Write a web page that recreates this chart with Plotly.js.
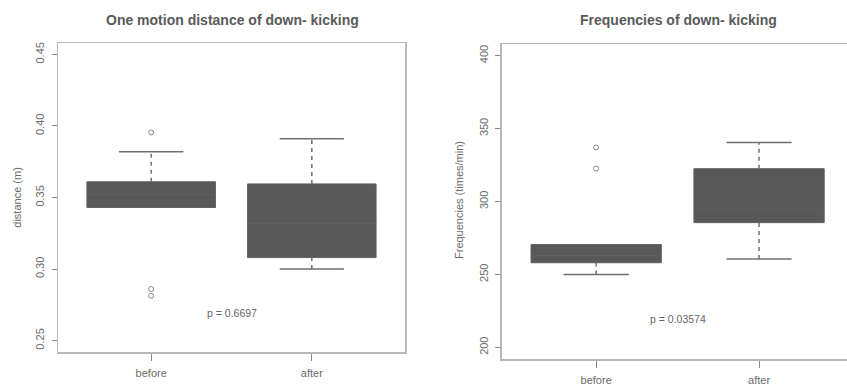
<!DOCTYPE html>
<html>
<head>
<meta charset="utf-8">
<script src="https://cdn.plot.ly/plotly-3.0.1.min.js"></script>
<style>html,body{margin:0;padding:0;background:#fff;}#chart{width:847px;height:388px;}</style>
</head>
<body>
<div id="chart"></div>
<script>
// ---- data ----
const groups = ['before', 'after'];
const groupPos = [1, 2];

// One motion distance of down-kicking (m)
const distQ1 = [0.343, 0.308];
const distMedian = [0.352, 0.332];
const distQ3 = [0.361, 0.3595];
const distLowWhisker = [0.343, 0.300];
const distHighWhisker = [0.382, 0.391];
const distOutliers = [[0.3955, 0.286, 0.2813], []];
const distP = 'p = 0.6697';

// Frequencies of down-kicking (times/min)
const freqQ1 = [258, 285.5];
const freqMedian = [263, 295.5];
const freqQ3 = [270.5, 322.5];
const freqLowWhisker = [250, 260.5];
const freqHighWhisker = [270.5, 340.5];
const freqOutliers = [[337, 322.6], []];
const freqP = 'p = 0.03574';

// ---- styles ----
const boxFill = '#585858';
const boxLine = '#616161';
const whiskColor = '#6e6e6e';
const frameColor = '#b8b8b8';
const textColor = '#5a5a5a';
const fam = 'Liberation Sans, Arial, sans-serif';
const tickFont = {family: fam, size: 11, color: '#6a6a6a'};
const capHalf = 0.2;

function panelTraces(q1, med, q3, lo, hi, outs, xa, ya) {
  const tr = [];
  tr.push({
    type: 'box', x: groupPos, q1: q1, median: med, q3: q3,
    lowerfence: q1, upperfence: q3, width: 0.8, whiskerwidth: 0,
    fillcolor: boxFill, line: {color: boxLine, width: 1},
    boxpoints: false, hoverinfo: 'skip', xaxis: xa, yaxis: ya, showlegend: false
  });
  groupPos.forEach((p, i) => {
    if (hi[i] > q3[i]) {
      tr.push({type: 'scatter', mode: 'lines', x: [p, p], y: [q3[i], hi[i]],
        line: {color: whiskColor, width: 1.5, dash: '4px,4px'}, xaxis: xa, yaxis: ya, showlegend: false, hoverinfo: 'skip'});
      tr.push({type: 'scatter', mode: 'lines', x: [p - capHalf, p + capHalf], y: [hi[i], hi[i]],
        line: {color: whiskColor, width: 1.5}, xaxis: xa, yaxis: ya, showlegend: false, hoverinfo: 'skip'});
    }
    if (lo[i] < q1[i]) {
      tr.push({type: 'scatter', mode: 'lines', x: [p, p], y: [lo[i], q1[i]],
        line: {color: whiskColor, width: 1.5, dash: '4px,4px'}, xaxis: xa, yaxis: ya, showlegend: false, hoverinfo: 'skip'});
      tr.push({type: 'scatter', mode: 'lines', x: [p - capHalf, p + capHalf], y: [lo[i], lo[i]],
        line: {color: whiskColor, width: 1.5}, xaxis: xa, yaxis: ya, showlegend: false, hoverinfo: 'skip'});
    }
    if (outs[i].length) {
      tr.push({type: 'scatter', mode: 'markers', x: outs[i].map(() => p), y: outs[i],
        marker: {symbol: 'circle-open', size: 5, color: '#8a8a8a', line: {width: 1}},
        xaxis: xa, yaxis: ya, showlegend: false, hoverinfo: 'skip'});
    }
  });
  return tr;
}

const data = [].concat(
  panelTraces(distQ1, distMedian, distQ3, distLowWhisker, distHighWhisker, distOutliers, 'x', 'y'),
  panelTraces(freqQ1, freqMedian, freqQ3, freqLowWhisker, freqHighWhisker, freqOutliers, 'x2', 'y2')
);

function xAxis(domain, range, anchor) {
  return {domain: domain, range: range, anchor: anchor, tickvals: groupPos, ticktext: groups,
    showline: true, linecolor: frameColor, linewidth: 1.5, mirror: true,
    ticks: 'outside', ticklen: 7, tickcolor: '#888', tickwidth: 1, tickfont: tickFont,
    ticklabelstandoff: 3, showgrid: false, zeroline: false, fixedrange: true};
}
function yAxis(domain, range, tickvals, ticktext, anchor, mirror) {
  return {domain: domain, range: range, anchor: anchor, tickvals: tickvals, ticktext: ticktext,
    tickangle: -90, showline: true, linecolor: frameColor, linewidth: 1.5, mirror: mirror,
    ticks: 'outside', ticklen: 5, tickcolor: '#888', tickwidth: 1, tickfont: tickFont,
    ticklabelstandoff: 3, showgrid: false, zeroline: false, fixedrange: true};
}

const distTicks = [0.25, 0.30, 0.35, 0.40, 0.45];
const freqTicks = [200, 250, 300, 350, 400];

const layout = {
  width: 847, height: 388,
  margin: {l: 0, r: 0, t: 0, b: 0},
  paper_bgcolor: '#fff', plot_bgcolor: '#fff',
  showlegend: false,
  xaxis: xAxis([58/847, 405/847], [0.42, 2.58], 'y'),
  yaxis: yAxis([1 - 352/388, 1 - 43/388], [0.242, 0.458], distTicks, distTicks.map(v => v.toFixed(2)), 'x', true),
  xaxis2: xAxis([501.7/847, 1], [0.42, 2.54], 'y2'),
  yaxis2: yAxis([1 - 359/388, 1 - 44/388], [192, 408], freqTicks, freqTicks.map(String), 'x2', false),
  annotations: [
    {text: '<b>One motion distance of down- kicking</b>', xref: 'paper', yref: 'paper', x: 232/847, y: 1 - 19.5/388,
      xanchor: 'center', yanchor: 'middle', showarrow: false, font: {family: fam, size: 14, color: textColor}},
    {text: '<b>Frequencies of down- kicking</b>', xref: 'paper', yref: 'paper', x: 678/847, y: 1 - 20/388,
      xanchor: 'center', yanchor: 'middle', showarrow: false, font: {family: fam, size: 14, color: textColor}},
    {text: 'distance (m)', xref: 'paper', yref: 'paper', x: 16.7/847, y: 1 - 197/388, textangle: -90,
      xanchor: 'center', yanchor: 'middle', showarrow: false, font: {family: fam, size: 11, color: '#6a6a6a'}},
    {text: 'Frequencies (times/min)', xref: 'paper', yref: 'paper', x: 459/847, y: 1 - 200/388, textangle: -90,
      xanchor: 'center', yanchor: 'middle', showarrow: false, font: {family: fam, size: 11, color: '#6a6a6a'}},
    {text: distP, xref: 'x', yref: 'y', x: 1.5, y: 0.2695, showarrow: false,
      font: {family: fam, size: 10.5, color: '#666'}},
    {text: freqP, xref: 'x2', yref: 'y2', x: 1.5, y: 219.5, showarrow: false,
      font: {family: fam, size: 10.5, color: '#666'}}
  ]
};

Plotly.newPlot('chart', data, layout, {staticPlot: true, displayModeBar: false});
</script>
</body>
</html>
